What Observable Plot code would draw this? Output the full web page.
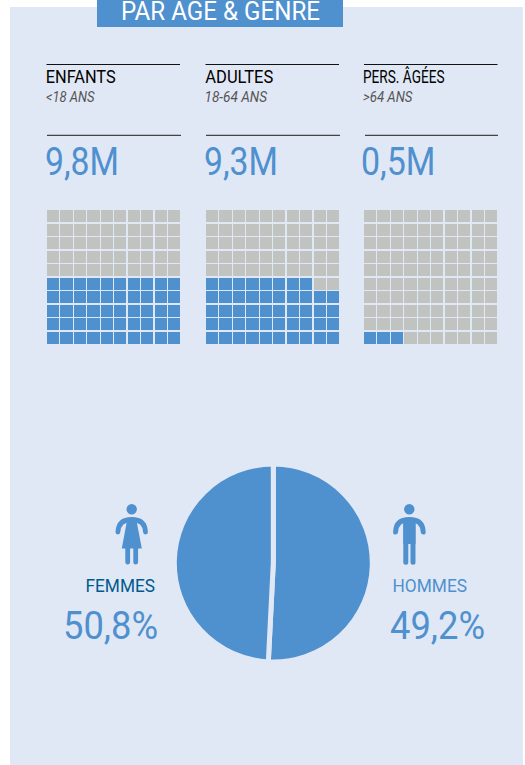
<!DOCTYPE html>
<html><head><meta charset="utf-8">
<style>html,body{margin:0;padding:0;background:#fff;overflow:hidden}svg{display:block}</style>
<script src="https://cdn.jsdelivr.net/npm/d3@7"></script>
<script src="https://cdn.jsdelivr.net/npm/@observablehq/plot@0.6"></script>
</head><body><div id="chart"></div>
<script>
// data
const groups = ["ENFANTS", "ADULTES", "PERS. ÂGÉES"];
const ageRanges = ["<18 ANS", "18-64 ANS", ">64 ANS"];
const populations = ["9,8M", "9,3M", "0,5M"];
const filledCells = [50, 48, 3];
const genders = ["FEMMES", "HOMMES"];
const genderShares = [50.8, 49.2];
const genderLabels = ["50,8%", "49,2%"];
const title = "PAR AGE & GENRE";

// layout & style
const blue = "#4f90cf", panel = "#e1e8f5", grey = "#c1c3c1", dark = "#00598f";
const font = "Roboto";
const gridX = [47, 206, 364], gridY = 210, step = 13.45, cell = 12.2;
const groupX = [45.2, 204.8, 362.5], rangeX = [45.5, 204, 362.5], popX = [44.5, 203.5, 360.5];
const groupW = [70, 68, 81.5], rangeW = [48.5, 62.5, 49.5], popW = [74, 74, 74.5];
const ruleTop = [[46.5,180],[205.5,339],[364,497.5]], ruleMid = [[47,181],[206,340],[365,498]];
const widths = new Map([[title,199],["FEMMES",69.5],["HOMMES",74.5],["50,8%",95],["49,2%",95]]);
groups.forEach((g,i)=>{widths.set(g,groupW[i]);widths.set(ageRanges[i],rangeW[i]);widths.set(populations[i],popW[i]);});

const cells = [];
filledCells.forEach((n,g)=>{
  for (let k=0;k<100;k++) cells.push({g,col:k%10,row:9-Math.floor(k/10),on:k<n});
});
const pie = {cx:273.3, cy:563, r:99};

const iconMark = (d, stroke, fillD, head) => () => {
  const p = d3.create("svg:g");
  p.append("circle").attr("cx",head[0]).attr("cy",head[1]).attr("r",5.2).attr("fill",blue);
  p.append("path").attr("d",d).attr("fill","none").attr("stroke",blue).attr("stroke-width",stroke).attr("stroke-linecap","round");
  if (fillD) p.append("path").attr("d",fillD).attr("fill",blue);
  return p.node();
};
const armsWoman = "M117.9 532Q118.5 519.5 131.7 519.5Q145 519.5 145.5 532";
const woman = iconMark(armsWoman+"M127.7 546V562.2M135.7 546V562.2", 4.8,
  "M127.5 518L136 518L141.8 548.5L121.8 548.5Z",[131.7,509.3]);
const armsMan = "M395.6 532Q396 519.6 409.4 519.6Q422.8 519.6 423.2 532";
const man = iconMark(armsMan+"M405.8 520V562.2M413 520V562.2", 5,
  "M403.4 518H415.5V544H403.4Z",[409.3,509.3]);

const pieMark = (index,{x,y}) => {
  const arcs = d3.pie().sort(null)(genderShares);
  const arc = d3.arc().innerRadius(0).outerRadius(y(pie.r)-y(0));
  const g = d3.create("svg:g").attr("transform",`translate(${x(pie.cx)},${y(pie.cy)})`);
  g.selectAll("path").data(arcs).join("path").attr("d",arc).attr("fill",blue)
    .attr("stroke",panel).attr("stroke-width",5).attr("stroke-linejoin","miter");
  return g.node();
};

const textRow = (data, xs, y, opts) => Plot.text(data, {
  x:(d,i)=>xs[i], y:()=>y, text:d=>d, textAnchor:"start", lineAnchor:"bottom",
  fontFamily:font, ...opts});

const plot = Plot.plot({
  width:525, height:765, margin:0, marginTop:0, marginBottom:0, marginLeft:0, marginRight:0,
  x:{domain:[0,525], range:[0,525], axis:null},
  y:{domain:[0,765], range:[0,765], axis:null},
  style:{background:"transparent", fontFamily:font},
  marks:[
    Plot.rect([0],{x1:()=>10,x2:()=>523,y1:()=>7,y2:()=>765,fill:panel}),
    Plot.rect([0],{x1:()=>97,x2:()=>343,y1:()=>0,y2:()=>27,fill:blue}),
    textRow([title],[120.5],19.5,{fill:"#fff",fontSize:25.5}),
    Plot.rect(cells,{
      x1:d=>gridX[d.g]+d.col*step, x2:d=>gridX[d.g]+d.col*step+cell,
      y1:d=>gridY+d.row*13.5, y2:d=>gridY+d.row*13.5+cell,
      fill:d=>d.on?blue:grey, shapeRendering:"crispEdges"}),
    Plot.ruleY(ruleTop,{x1:d=>d[0],x2:d=>d[1],y:()=>64,stroke:"#111",strokeWidth:1.2}),
    Plot.ruleY(ruleMid,{x1:d=>d[0],x2:d=>d[1],y:()=>134.8,stroke:"#444",strokeWidth:1.2}),
    textRow(groups,groupX,82.3,{fill:"#000",fontSize:18}),
    textRow(ageRanges,rangeX,101,{fill:"#555",fontSize:14,fontStyle:"italic"}),
    textRow(populations,popX,174.5,{fill:blue,fontSize:39.5}),
    woman, man, pieMark,
    textRow([genders[0]],[85],591,{fill:dark,fontSize:18}),
    textRow([genders[1]],[392],591,{fill:blue,fontSize:18}),
    textRow([genderLabels[0]],[62.5],638.5,{fill:blue,fontSize:39.5}),
    textRow([genderLabels[1]],[389.5],638.5,{fill:blue,fontSize:39.5})
  ]
});
d3.select(plot).selectAll("text").each(function(){
  const w = widths.get(this.textContent);
  if (w) { this.setAttribute("textLength",w); this.setAttribute("lengthAdjust","spacingAndGlyphs"); }
});
document.getElementById("chart").append(plot);
</script></body></html>
